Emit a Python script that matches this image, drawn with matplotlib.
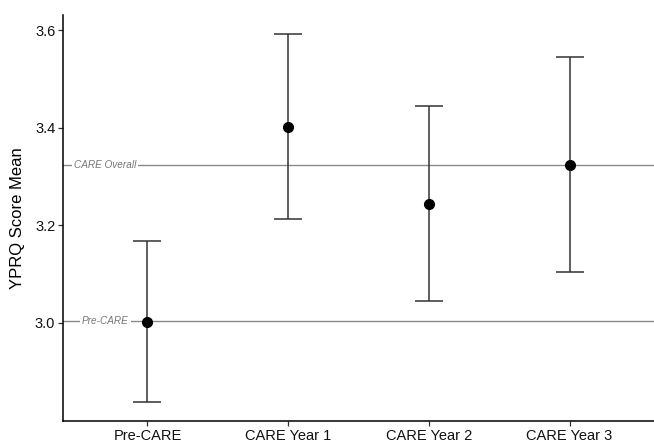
import matplotlib
matplotlib.use("Agg")
import matplotlib.pyplot as plt

plt.rcParams['font.family'] = ['Liberation Sans', 'DejaVu Sans']

# data
groups = ["Pre-CARE", "CARE Year 1", "CARE Year 2", "CARE Year 3"]
means = [3.002, 3.402, 3.244, 3.324]
lower = [2.838, 3.213, 3.045, 3.105]
upper = [3.168, 3.592, 3.445, 3.545]
ref_values = [3.324, 3.003]
ref_labels = ["CARE Overall", "Pre-CARE"]

fig = plt.figure(figsize=(6.54, 4.42), dpi=100)
ax = fig.add_axes([0.0963, 0.0475, 0.9037, 0.9185])

x = list(range(1, len(groups) + 1))

# reference lines with labels sitting on them
for val, lab in zip(ref_values, ref_labels):
    ax.axhline(val, color="#8a8a8a", linewidth=1.0, zorder=1)
    ax.text(0.70, val, lab, ha="center", va="center", fontsize=7.2, style="italic",
            color="#777777", zorder=2,
            bbox=dict(facecolor="white", edgecolor="none", pad=1.5))

yerr = [[m - l for m, l in zip(means, lower)], [u - m for m, u in zip(means, upper)]]
ax.errorbar(x, means, yerr=yerr, fmt="none", ecolor="#333333", elinewidth=1.1,
            capsize=10.4, capthick=1.1, zorder=3)
ax.plot(x, means, "o", color="black", markersize=7, zorder=4)

ax.set_xlim(0.4, 4.6)
ax.set_ylim(2.799, 3.631)
ax.set_xticks(x)
ax.set_xticklabels(groups, fontsize=10.5)
ax.set_yticks([3.0, 3.2, 3.4, 3.6])
ax.set_yticklabels(["3.0", "3.2", "3.4", "3.6"], fontsize=10.5)
ax.set_ylabel("YPRQ Score Mean", fontsize=12, labelpad=7)

for s in ["top", "right"]:
    ax.spines[s].set_visible(False)
for s in ["left", "bottom"]:
    ax.spines[s].set_color("black")
    ax.spines[s].set_linewidth(1.1)
ax.tick_params(axis="both", length=3.5, width=0.9, color="#333333", colors="#111111", pad=2)
for lbl in ax.get_xticklabels() + ax.get_yticklabels():
    lbl.set_color("#111111")

fig.savefig("out.png", dpi=100)
